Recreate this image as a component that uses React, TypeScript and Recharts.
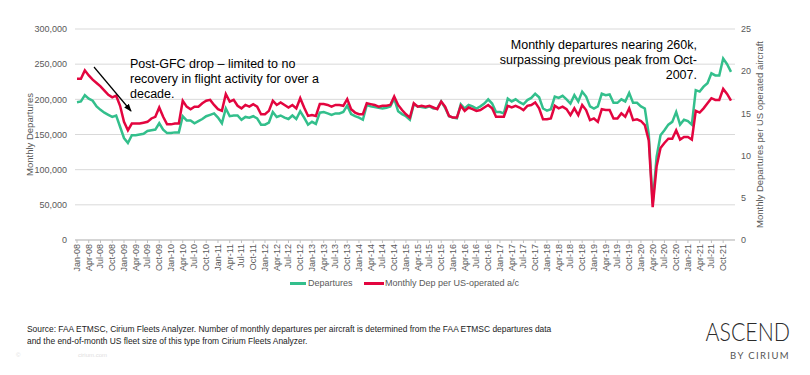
import React from "react";
import { LineChart, Line, XAxis, YAxis, CartesianGrid, Legend } from "recharts";

const months = ["Jan", "Feb", "Mar", "Apr", "May", "Jun", "Jul", "Aug", "Sep", "Oct", "Nov", "Dec"];
const years = ["08", "09", "10", "11", "12", "13", "14", "15", "16", "17", "18", "19", "20", "21"];
const categories = years.flatMap((y) => months.map((m) => `${m}-${y}`));

// monthly departures, one row per year (Jan..Dec)
const departures = [
  196000, 197000, 206000, 201000, 198000, 190000, 185000, 181000, 178000, 175000, 177000, 161000,
  145000, 138000, 149000, 149000, 150000, 151000, 155000, 156000, 157000, 166000, 157000, 152000,
  152000, 153000, 153000, 176000, 170000, 170000, 166000, 169000, 172000, 176000, 178000, 180000,
  174000, 166000, 187000, 176000, 177000, 177000, 171000, 175000, 174000, 176000, 173000, 164000,
  164000, 167000, 182000, 175000, 177000, 174000, 172000, 177000, 172000, 183000, 174000, 164000,
  168000, 165000, 181000, 182000, 180000, 178000, 180000, 180000, 182000, 191000, 179000, 176000,
  174000, 171000, 192000, 190000, 189000, 188000, 187000, 188000, 190000, 201000, 183000, 179000,
  176000, 171000, 193000, 190000, 189000, 188000, 190000, 187000, 187000, 197000, 188000, 176000,
  174000, 173000, 193000, 187000, 192000, 190000, 187000, 190000, 194000, 200000, 194000, 182000,
  182000, 180000, 201000, 197000, 200000, 196000, 193000, 199000, 202000, 208000, 203000, 187000,
  184000, 186000, 204000, 202000, 205000, 200000, 194000, 206000, 197000, 211000, 204000, 190000,
  187000, 190000, 208000, 206000, 207000, 195000, 195000, 200000, 197000, 209000, 195000, 195000,
  190000, 187000, 150000, 52000, 118000, 149000, 156000, 164000, 168000, 182000, 164000, 171000,
  169000, 164000, 213000, 211000, 218000, 223000, 237000, 234000, 234000, 258000, 250000, 239000,
];

// monthly departures per US-operated aircraft
const perAircraft = [
  19.1, 19.1, 20.1, 19.5, 19.0, 18.6, 18.2, 17.7, 17.2, 16.9, 17.1, 15.9,
  14.0, 13.0, 13.8, 13.8, 13.8, 13.9, 14.0, 14.4, 14.6, 15.7, 14.6, 13.7,
  13.7, 13.8, 13.8, 16.5, 15.8, 15.5, 15.8, 15.8, 16.2, 16.5, 16.6, 16.0,
  15.5, 15.3, 17.3, 16.4, 16.6, 15.9, 15.6, 16.0, 15.8, 16.1, 15.8, 14.9,
  14.9, 15.3, 16.5, 16.0, 16.3, 16.0, 15.7, 16.0, 15.6, 16.8, 15.7, 14.7,
  14.8, 14.7, 16.1, 16.1, 16.0, 15.8, 16.0, 16.0, 15.9, 16.7, 15.5, 15.1,
  14.9, 14.9, 16.2, 16.1, 16.0, 15.8, 15.9, 15.9, 16.0, 17.0, 16.0, 15.4,
  14.9, 14.5, 16.2, 15.8, 15.9, 15.8, 15.9, 15.7, 15.5, 16.4, 15.8, 14.7,
  14.5, 14.5, 15.9, 15.3, 15.7, 15.5, 15.3, 15.4, 15.7, 16.0, 15.6, 14.6,
  14.6, 14.6, 15.9, 15.7, 15.9, 15.7, 15.4, 15.9, 16.0, 16.3, 15.6, 14.3,
  14.3, 14.4, 15.9, 15.6, 15.8, 15.5, 14.8, 15.6, 14.8, 16.0, 15.4, 14.2,
  14.4, 14.0, 15.5, 15.4, 15.4, 14.4, 14.4, 15.0, 14.6, 15.6, 14.2, 14.3,
  14.1, 13.6, 11.8, 3.9, 8.7, 10.9, 11.5, 12.0, 12.0, 13.0, 11.9, 12.2,
  12.2, 11.9, 15.3, 15.1, 15.6, 16.2, 16.8, 16.6, 16.6, 17.9, 17.3, 16.5,
];

const leftTicks = [0, 50000, 100000, 150000, 200000, 250000, 300000];
const rightTicks = [0, 5, 10, 15, 20, 25];

const GREEN = "#33bf8c";
const RED = "#e3053f";
const GREY = "#595959";
const FONT = "'Liberation Sans', Arial, sans-serif";

const data = categories.map((month, i) => ({
  month,
  departures: departures[i],
  perAircraft: perAircraft[i],
}));

const MonthTick = ({ x, y, payload }: any) => (
  <g transform={`translate(${x},${y})`}>
    <text x={0} y={0} dy={3} textAnchor="end" transform="rotate(-90)" fontSize={9} fill={GREY} fontFamily={FONT}>
      {payload.value}
    </text>
  </g>
);

const LegendBox = () => (
  <div style={{ position: "relative", height: 18, width: 810, fontFamily: FONT, fontSize: 9, color: GREY }}>
    <div style={{ position: "absolute", left: 290, top: 4, width: 16, height: 3, background: GREEN }} />
    <span style={{ position: "absolute", left: 308, top: 0, lineHeight: "11px" }}>Departures</span>
    <div style={{ position: "absolute", left: 364, top: 4, width: 20, height: 3, background: RED }} />
    <span style={{ position: "absolute", left: 385, top: 0, lineHeight: "11px" }}>Monthly Dep per US-operated a/c</span>
  </div>
);

export default function App() {
  return (
    <div style={{ position: "absolute", left: 0, top: 0, width: 810, height: 375, background: "#fff", fontFamily: FONT, overflow: "hidden" }}>
      <LineChart width={810} height={296} data={data} margin={{ top: 29, right: 0, bottom: 0, left: 0 }}>
        <CartesianGrid yAxisId="left" vertical={false} stroke="#d9d9d9" />
        <XAxis
          dataKey="month"
          interval={2}
          height={38}
          tick={<MonthTick />}
          tickSize={3}
          tickMargin={1}
          tickLine={{ stroke: "#bfbfbf" }}
          axisLine={{ stroke: "#bfbfbf" }}
          padding={{ left: 2, right: 4 }}
        />
        <YAxis
          yAxisId="left"
          width={75}
          domain={[0, 300000]}
          ticks={leftTicks}
          axisLine={false}
          tickLine={false}
          tickFormatter={(v: number) => v.toLocaleString("en-US")}
          tick={{ fontSize: 9, fill: GREY, fontFamily: FONT }}
          label={{ value: "Monthly Departures", angle: -90, position: "insideLeft", offset: 30, style: { textAnchor: "middle", fontSize: 9.5, fill: GREY, fontFamily: FONT } }}
        />
        <YAxis
          yAxisId="right"
          orientation="right"
          width={75}
          domain={[0, 25]}
          ticks={rightTicks}
          axisLine={false}
          tickLine={false}
          tickMargin={0}
          tick={{ fontSize: 9, fill: GREY, fontFamily: FONT }}
          label={{ value: "Monthly Departures per US operated aircraft", angle: -90, position: "insideRight", offset: 50, style: { textAnchor: "middle", fontSize: 9.5, fill: GREY, fontFamily: FONT } }}
        />
        <Legend verticalAlign="bottom" content={<LegendBox />} />
        <Line yAxisId="left" type="linear" dataKey="departures" name="Departures" stroke={GREEN} strokeWidth={2.5} dot={false} isAnimationActive={false} />
        <Line yAxisId="right" type="linear" dataKey="perAircraft" name="Monthly Dep per US-operated a/c" stroke={RED} strokeWidth={2.5} dot={false} isAnimationActive={false} />
      </LineChart>

      <svg width={810} height={375} style={{ position: "absolute", left: 0, top: 0, pointerEvents: "none" }}>
        <defs>
          <marker id="arrowHead" markerWidth="8" markerHeight="8" refX="7" refY="4" orient="auto" markerUnits="userSpaceOnUse">
            <path d="M0,1 L8,4 L0,7 Z" fill="#000" />
          </marker>
        </defs>
        <line x1={94} y1={67} x2={131} y2={111} stroke="#000" strokeWidth={1.2} markerEnd="url(#arrowHead)" />
      </svg>

      <div style={{ position: "absolute", left: 130, top: 57, fontSize: 12.5, lineHeight: "15px", color: "#000", whiteSpace: "nowrap" }}>
        Post-GFC drop – limited to no<br />recovery in flight activity for over a<br />decade.
      </div>
      <div style={{ position: "absolute", right: 113, top: 38, fontSize: 12.5, lineHeight: "15px", color: "#000", textAlign: "right", whiteSpace: "nowrap" }}>
        Monthly departures nearing 260k,<br />surpassing previous peak from Oct-<br />2007.
      </div>

      <div style={{ position: "absolute", left: 27, top: 323, fontSize: 9.5, lineHeight: "12px", color: "#222", whiteSpace: "nowrap", transform: "scaleX(0.885)", transformOrigin: "0 0" }}>
        Source: FAA ETMSC, Cirium Fleets Analyzer. Number of monthly departures per aircraft is determined from the FAA ETMSC departures data<br />
        and the end-of-month US fleet size of this type from Cirium Fleets Analyzer.
      </div>
      <div style={{ position: "absolute", left: 16, top: 352, fontSize: 6, color: "#e0e0e0" }}>©</div>
      <div style={{ position: "absolute", left: 78, top: 352, fontSize: 6, color: "#e0e0e0" }}>cirium.com</div>

      <div style={{ position: "absolute", right: 20, top: 316, fontSize: 26, fontWeight: 300, letterSpacing: 0, color: "#2b2b2b", fontFamily: "Lato, 'Liberation Sans', sans-serif", lineHeight: "30px", transform: "scaleX(0.82)", transformOrigin: "100% 0" }}>
        ASCEND
      </div>
      <div style={{ position: "absolute", right: 20, top: 350, fontSize: 9.5, letterSpacing: 1.4, color: "#555", fontFamily: "Lato, 'Liberation Sans', sans-serif", lineHeight: "12px" }}>
        BY CIRIUM
      </div>
    </div>
  );
}
